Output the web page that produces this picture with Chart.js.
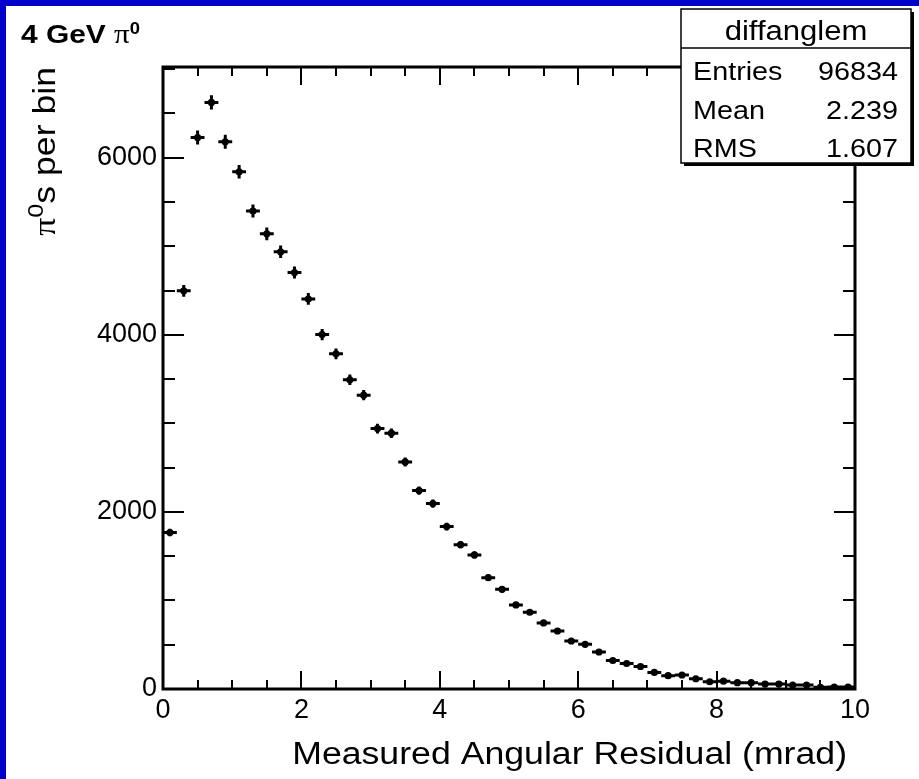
<!DOCTYPE html>
<html>
<head>
<meta charset="utf-8">
<title>diffanglem</title>
<script src="https://cdn.jsdelivr.net/npm/chart.js@4.4.0/dist/chart.umd.min.js"></script>
<style>
	html, body { margin:0; padding:0; background:#fff; }
	#wrap { position:relative; width:919px; height:779px; }
</style>
</head>
<body>
<div id="wrap"><canvas id="histo"></canvas></div>
<script>
// histogram bins: centre (mrad) and contents
const binCenters = [
	0.1, 0.3, 0.5, 0.7, 0.9, 1.1, 1.3, 1.5, 1.7, 1.9,
	2.1, 2.3, 2.5, 2.7, 2.9, 3.1, 3.3, 3.5, 3.7, 3.9,
	4.1, 4.3, 4.5, 4.7, 4.9, 5.1, 5.3, 5.5, 5.7, 5.9,
	6.1, 6.3, 6.5, 6.7, 6.9, 7.1, 7.3, 7.5, 7.7, 7.9,
	8.1, 8.3, 8.5, 8.7, 8.9, 9.1, 9.3, 9.5, 9.7, 9.9
];
const binCounts = [
	1767, 4497, 6229, 6625, 6181, 5842, 5398, 5141, 4938, 4704,
	4405, 4003, 3785, 3492, 3319, 2941, 2889, 2565, 2241, 2094,
	1834, 1630, 1514, 1257, 1126, 949, 867, 746, 655, 542,
	505, 418, 322, 288, 254, 187, 150, 158, 116, 82,
	88, 71, 71, 56, 56, 45, 45, 20, 22, 22
];
const binHalfWidth = 0.1;

const xRange = [0, 10];
const yRange = [0, 7025];
const xTickValues = [0, 2, 4, 6, 8, 10];
const yTickValues = [0, 2000, 4000, 6000];
const xMinorStep = 0.5;
const yMinorStep = 500;

const xTitle = 'Measured Angular Residual (mrad)';
const yTitle = ['\u03c0', '0', 's per bin'];
const plotTitle = ['4 GeV ', '\u03c0', '0'];

const statsName = 'diffanglem';
const statsLabels = ['Entries', 'Mean', 'RMS'];
const statsValues = ['96834', '2.239', '1.607'];

const SANS = '"Liberation Sans", Arial, Helvetica, sans-serif';
const SERIF = '"Liberation Serif", "Times New Roman", serif';
const WIDE = 1.15; // text is a little wide along its baseline

// text piece list [{str, font, rise}] drawn one after another, stretched by WIDE
function pieceWidth(ctx, pieces){
	let w = 0;
	pieces.forEach(p => { ctx.font = p.font; w += ctx.measureText(p.str).width * WIDE; });
	return w;
}
function drawPieces(ctx, pieces, x0){
	let x = x0;
	pieces.forEach(p => {
		ctx.font = p.font;
		ctx.save();
		ctx.translate(x, -(p.rise || 0));
		ctx.scale(WIDE, 1);
		ctx.textAlign = 'left';
		ctx.textBaseline = 'alphabetic';
		ctx.fillText(p.str, 0, 0);
		ctx.restore();
		x += ctx.measureText(p.str).width * WIDE;
	});
}
function wideText(ctx, str, x, y, font, align){
	ctx.save();
	ctx.font = font;
	ctx.translate(x, y);
	ctx.scale(WIDE, 1);
	ctx.textAlign = align;
	ctx.textBaseline = 'alphabetic';
	ctx.fillText(str, 0, 0);
	ctx.restore();
}

const rootStyle = {
	id: 'rootStyle',
	beforeDraw(chart){
		const ctx = chart.ctx;
		ctx.save();
		ctx.fillStyle = '#ffffff';
		ctx.fillRect(0, 0, chart.width, chart.height);
		// blue slide border
		ctx.fillStyle = '#0000cc';
		ctx.fillRect(0, 0, chart.width, 6);
		ctx.fillRect(0, 0, 6, chart.height);
		ctx.restore();
	},
	beforeDatasetsDraw(chart){
		// error bars: bin width horizontally, sqrt(N) vertically
		const ctx = chart.ctx, xs = chart.scales.x, ys = chart.scales.y;
		ctx.save();
		ctx.strokeStyle = '#000';
		ctx.lineWidth = 3;
		ctx.beginPath();
		binCenters.forEach((c, i) => {
			const n = binCounts[i];
			const py = ys.getPixelForValue(n);
			const px = xs.getPixelForValue(c);
			ctx.moveTo(xs.getPixelForValue(c - binHalfWidth), py);
			ctx.lineTo(xs.getPixelForValue(c + binHalfWidth), py);
			const e = Math.sqrt(n);
			ctx.moveTo(px, ys.getPixelForValue(n - e));
			ctx.lineTo(px, ys.getPixelForValue(n + e));
		});
		ctx.stroke();
		ctx.restore();
	},
	afterDraw(chart){
		const ctx = chart.ctx, a = chart.chartArea;
		const xs = chart.scales.x, ys = chart.scales.y;
		ctx.save();
		ctx.strokeStyle = '#000';
		ctx.fillStyle = '#000';

		// tick marks on all four sides, pointing inwards
		ctx.lineWidth = 2;
		ctx.beginPath();
		for(let v = xRange[0]; v <= xRange[1] + 1e-9; v += xMinorStep){
			const major = xTickValues.some(t => Math.abs(t - v) < 1e-6);
			const len = major ? 18 : 9;
			const px = Math.round(xs.getPixelForValue(v));
			ctx.moveTo(px, a.bottom); ctx.lineTo(px, a.bottom - len);
			ctx.moveTo(px, a.top); ctx.lineTo(px, a.top + len);
		}
		for(let v = yRange[0]; v <= yRange[1]; v += yMinorStep){
			const major = yTickValues.some(t => Math.abs(t - v) < 1e-6);
			const len = major ? 21 : 12;
			const py = Math.round(ys.getPixelForValue(v));
			ctx.moveTo(a.left, py); ctx.lineTo(a.left + len, py);
			ctx.moveTo(a.right, py); ctx.lineTo(a.right - len, py);
		}
		ctx.stroke();

		// frame
		ctx.lineWidth = 3;
		ctx.strokeRect(a.left, a.top, a.right - a.left, a.bottom - a.top);

		// x title, right aligned under the axis
		wideText(ctx, xTitle, a.right - 8, 764, '31px ' + SANS, 'right');

		// y title, rotated and right aligned to the top of the axis
		const yPieces = [
			{str: yTitle[0], font: '31px ' + SERIF},
			{str: yTitle[1], font: '22px ' + SANS, rise: 12},
			{str: yTitle[2], font: '31px ' + SANS}
		];
		ctx.save();
		ctx.translate(55, a.top);
		ctx.rotate(-Math.PI / 2);
		drawPieces(ctx, yPieces, -pieceWidth(ctx, yPieces));
		ctx.restore();

		// plot title
		ctx.save();
		ctx.translate(21, 43);
		drawPieces(ctx, [
			{str: plotTitle[0], font: 'bold 26px ' + SANS},
			{str: plotTitle[1], font: '27px ' + SERIF},
			{str: plotTitle[2], font: 'bold 16px ' + SANS, rise: 9}
		], 0);
		ctx.restore();

		// statistics box
		const bx = 681, by = 9, bw = 230, bh = 154;
		ctx.fillStyle = '#000';
		ctx.fillRect(bx + 3, by + 3, bw, bh);
		ctx.fillStyle = '#fff';
		ctx.fillRect(bx, by, bw, bh);
		ctx.lineWidth = 1.5;
		ctx.strokeRect(bx, by, bw, bh);
		ctx.beginPath();
		ctx.moveTo(bx, 48); ctx.lineTo(bx + bw, 48);
		ctx.stroke();
		ctx.fillStyle = '#000';
		wideText(ctx, statsName, bx + bw / 2, 40, '27px ' + SANS, 'center');
		const rowY = [80, 119, 157];
		statsLabels.forEach((lab, i) => {
			wideText(ctx, lab, 693, rowY[i], '25px ' + SANS, 'left');
			wideText(ctx, statsValues[i], 898, rowY[i], '25px ' + SANS, 'right');
		});
		ctx.restore();
	}
};

window.addEventListener('DOMContentLoaded', function(){
	const ctx = document.getElementById('histo').getContext('2d');
	new Chart(ctx, {
		type: 'scatter',
		data: {
			datasets: [{
				data: binCenters.map((c, i) => ({x: c, y: binCounts[i]})),
				backgroundColor: '#000',
				borderColor: '#000',
				borderWidth: 0,
				pointRadius: 3.6,
				pointHoverRadius: 3.6
			}]
		},
		options: {
			responsive: true,
			maintainAspectRatio: false,
			animation: false,
			events: [],
			layout: { padding: {top: 67, right: 64, left: 0, bottom: 0} },
			plugins: { legend: {display: false}, tooltip: {enabled: false} },
			scales: {
				x: {
					type: 'linear', min: xRange[0], max: xRange[1],
					grid: {display: false, drawTicks: false},
					border: {display: false},
					afterBuildTicks: s => { s.ticks = xTickValues.map(v => ({value: v})); },
					afterFit: s => { s.height = 90; },
					ticks: {
						font: {family: SANS, size: 27}, color: '#000',
						padding: 5, maxRotation: 0, autoSkip: false,
						callback: v => String(v)
					}
				},
				y: {
					type: 'linear', min: yRange[0], max: yRange[1],
					grid: {display: false, drawTicks: false},
					border: {display: false},
					afterBuildTicks: s => { s.ticks = yTickValues.map(v => ({value: v})); },
					afterFit: s => { s.width = 163; },
					ticks: {
						font: {family: SANS, size: 27}, color: '#000',
						padding: 6, autoSkip: false,
						callback: v => String(v)
					}
				}
			}
		},
		plugins: [rootStyle]
	});
});
</script>
</body>
</html>
